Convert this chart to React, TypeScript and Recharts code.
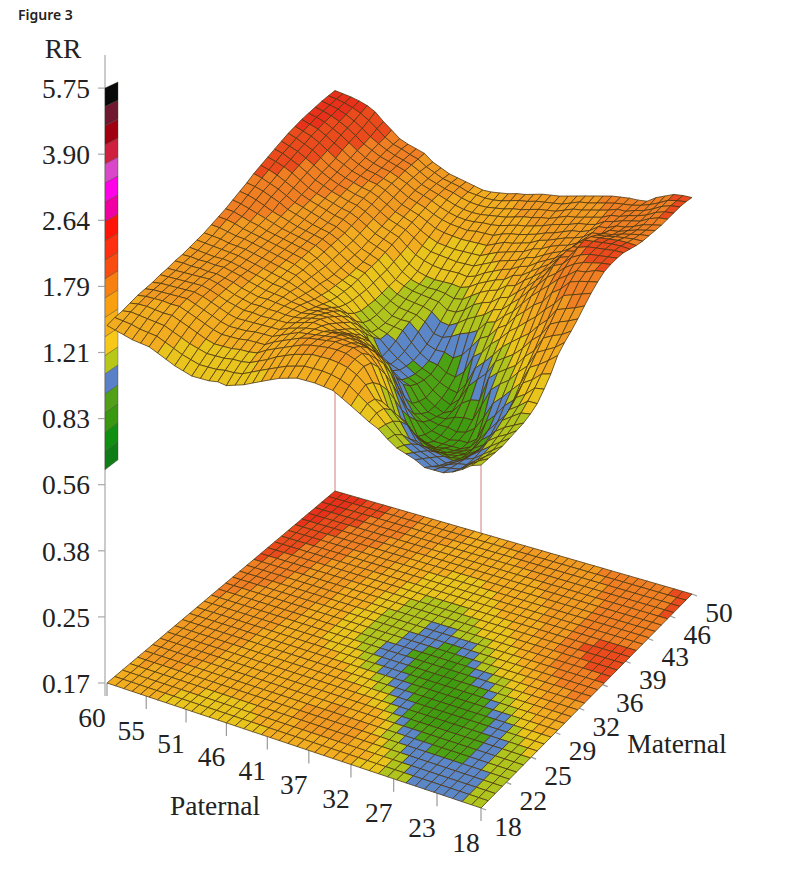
import { ScatterChart, Scatter, XAxis, YAxis } from 'recharts'

const paternalLabels = [60, 55, 51, 46, 41, 37, 32, 27, 23, 18]
const maternalLabels = [18, 22, 25, 29, 32, 36, 39, 43, 46, 50]
const rrLabels = ['0.17', '0.25', '0.38', '0.56', '0.83', '1.21', '1.79', '2.64', '3.90', '5.75']

// colour key, RR x 100 at the lower edge of each band
const bandEdges = [60, 67, 75, 84, 94, 106, 118, 132, 148, 166, 186, 208, 233, 261, 293, 328, 367, 411, 460, 515, 575]
const barColors = ['#107c18', '#109010', '#389810', '#50a018', '#5a80c8', '#b8c818', '#f8c818', '#f5b018', '#f8a010', '#f88010',
  '#f84c10', '#ff3010', '#ff1408', '#f000a0', '#ff00e8', '#d848c8', '#d02040', '#a00010', '#701830', '#0a0a0a']
const meshColors = ['#107c18', '#109010', '#3f9c10', '#4aa214', '#5b86c8', '#b0c41e', '#e8c41c', '#f2ac1f', '#f09a22', '#ef7f22',
  '#ea4a1c', '#e8301a', '#f0100a', '#f000a0', '#ff00e8', '#d848c8', '#d02040', '#a00010', '#701830', '#0a0a0a']

// RR x 100, one row per year of paternal age (60 down to 18), one column per year of maternal age (18 up to 50)
const rrByPaternal = [
  [141,143,144,146,148,149,150,152,153,155,156,158,160,162,165,168,171,175,179,183,188,192,196,200,204,208,211,214,216,218,220,221,222],
  [139,142,145,147,149,150,151,152,153,155,156,157,159,161,164,167,170,173,177,181,185,189,193,197,200,204,207,210,213,215,217,219,220],
  [137,141,144,147,149,150,151,152,153,154,155,156,158,160,162,165,167,170,174,178,181,185,189,192,196,199,203,206,209,211,214,216,218],
  [135,139,143,146,149,150,151,152,153,154,155,155,157,158,160,162,164,167,170,174,177,180,184,187,190,194,197,200,203,206,209,212,215],
  [134,138,142,145,148,150,151,152,153,153,154,155,156,157,159,160,162,164,166,170,172,175,178,181,184,187,190,193,197,200,203,207,211],
  [133,137,141,145,148,150,151,152,153,153,154,154,155,156,157,158,159,161,163,165,167,170,172,175,178,180,183,187,190,193,196,200,205],
  [130,134,138,142,145,147,149,150,151,151,152,152,153,154,155,156,157,158,160,162,164,166,168,171,173,175,178,180,183,185,188,192,195],
  [127,131,135,139,142,144,146,147,148,149,150,150,151,152,153,154,155,156,157,159,161,163,165,167,169,171,173,175,177,180,182,184,187],
  [124,128,132,136,139,141,143,144,145,146,147,148,149,150,151,152,153,154,155,156,158,160,162,164,166,168,170,171,173,175,177,178,179],
  [122,126,130,133,136,138,140,142,143,144,145,146,147,148,149,150,151,152,153,154,155,157,159,161,163,165,167,169,170,172,173,175,175],
  [120,124,128,131,134,136,138,140,141,142,143,144,145,146,147,148,149,150,151,152,153,155,157,159,161,163,165,166,168,169,170,171,172],
  [120,124,128,131,134,136,138,140,141,142,142,143,143,144,144,145,145,146,147,148,149,151,153,155,157,159,161,163,164,166,167,168,169],
  [120,124,128,131,134,136,138,139,140,141,141,141,140,140,140,140,140,141,142,143,144,146,148,150,152,154,156,158,160,161,162,162,162],
  [121,125,129,132,135,137,138,139,140,140,139,138,137,136,136,135,135,136,137,138,139,141,143,145,147,149,151,153,155,156,157,158,158],
  [120,125,129,132,135,137,138,139,139,139,138,136,134,133,132,132,132,132,133,134,136,138,140,142,144,146,148,150,152,153,154,154,154],
  [122,126,130,133,135,137,138,139,139,138,136,134,132,130,129,129,129,130,131,132,133,135,137,139,141,143,145,147,149,150,151,152,152],
  [124,129,133,137,139,140,141,141,140,139,137,134,131,127,125,124,124,124,125,126,127,129,131,133,136,138,141,143,145,147,149,150,150],
  [127,132,136,140,142,143,143,143,142,140,137,134,130,124,120,118,118,118,119,120,121,123,125,128,131,134,137,140,142,144,146,147,148],
  [130,135,140,143,145,146,145,145,143,140,136,132,127,120,115,113,113,114,115,116,118,119,121,125,128,131,135,138,140,142,144,146,146],
  [133,138,143,146,148,147,146,144,141,137,133,129,123,116,110,109,109,110,112,114,116,117,119,123,127,130,134,137,139,141,143,145,146],
  [136,141,146,149,150,148,146,142,138,134,130,125,118,112,107,107,108,109,111,113,115,116,118,122,126,129,133,136,139,141,143,145,147],
  [138,143,148,151,151,149,147,142,137,132,127,120,105,101,102,104,107,109,110,112,114,116,118,122,125,129,133,137,140,142,144,146,148],
  [140,145,150,152,152,150,147,142,136,130,124,114,103,98,98,99,101,104,107,110,113,115,118,122,125,129,133,137,140,143,145,148,150],
  [140,145,150,153,153,150,146,140,133,126,116,105,99,96,95,95,96,98,101,105,109,113,117,121,125,129,133,137,141,144,147,150,151],
  [140,145,150,153,152,149,144,137,128,118,108,100,95,93,92,92,93,96,100,104,109,114,119,123,128,132,136,140,143,146,148,151,153],
  [139,144,149,152,152,148,142,134,125,116,105,97,93,91,90,90,92,96,102,107,112,118,123,127,131,135,139,142,145,148,150,153,155],
  [138,142,147,149,149,143,135,127,116,104,94,88,86,85,86,87,89,94,105,111,117,122,126,130,134,137,140,143,146,149,152,154,156],
  [134,139,143,145,143,135,125,114,103,93,87,84,82,82,83,85,88,97,107,114,120,125,129,133,136,139,142,145,148,151,153,155,157],
  [130,134,137,134,128,120,110,100,93,88,84,82,81,80,81,84,92,103,110,117,122,127,131,135,138,141,144,147,150,152,154,156,159],
  [126,129,128,122,112,104,95,88,84,82,81,81,81,82,85,90,102,110,117,122,127,132,136,139,142,145,148,150,153,155,157,159,161],
  [122,124,123,118,110,103,94,87,82,80,80,81,83,87,93,100,106,113,119,124,129,134,138,141,144,147,150,152,155,158,160,162,163],
  [119,118,116,112,106,97,90,85,81,80,79,80,84,90,98,105,113,120,125,130,135,140,143,146,148,151,153,155,157,159,161,163,165],
  [114,113,109,103,98,92,88,84,82,80,80,81,84,91,103,111,118,124,130,136,141,145,148,150,152,154,156,158,160,161,163,165,167],
  [110,108,105,101,96,91,87,84,82,80,80,84,93,105,112,118,125,132,138,144,148,151,153,154,155,156,158,159,161,163,165,167,169],
  [108,105,102,99,95,91,87,85,83,82,83,91,103,110,116,123,130,138,146,151,155,158,160,160,160,160,161,162,163,165,167,169,170],
  [106,103,100,97,94,90,88,86,85,87,93,100,108,114,120,128,136,145,153,160,166,169,170,169,168,167,167,168,168,169,170,170,171],
  [103,100,97,95,93,91,90,90,91,93,98,105,112,118,126,133,142,150,160,166,170,172,172,170,168,168,168,169,170,170,170,171,171],
  [103,101,99,97,95,94,93,93,95,99,105,111,119,126,134,141,150,160,168,174,179,184,186,184,180,176,174,173,173,173,173,173,172],
  [103,102,101,100,99,98,97,98,101,105,110,117,125,132,140,148,157,166,174,180,184,187,187,185,181,177,175,174,175,175,175,176,178],
  [105,103,102,102,103,105,107,110,113,117,123,130,137,144,151,159,167,175,181,184,187,188,188,186,183,180,178,177,177,178,179,180,182],
  [108,107,106,106,107,109,111,114,117,121,127,134,141,148,155,162,170,178,182,186,188,189,189,187,184,182,181,181,182,183,184,185,186],
  [112,111,110,110,111,112,114,118,122,127,133,139,145,151,158,165,173,180,186,188,189,190,189,187,185,184,183,183,185,186,187,187,187],
  [114,114,114,114,115,116,117,119,122,128,135,145,151,156,162,169,176,182,187,189,190,190,188,186,185,185,185,185,186,187,188,188,187],
]

const W = 806
const H = 873
const axisLeft = 105

// floor plane corners in page pixels, perspective map from these
const corners = { left: [107, 683], front: [481, 808], right: [692, 594], back: [335, 491] }
const rrBase = 683
const rrPerLog = 169

const makePlane = () => {
  const [x0, y0] = corners.left
  const [x1, y1] = corners.front
  const [x2, y2] = corners.right
  const [x3, y3] = corners.back
  const dx1 = x1 - x2, dx2 = x3 - x2, sx = x0 - x1 + x2 - x3
  const dy1 = y1 - y2, dy2 = y3 - y2, sy = y0 - y1 + y2 - y3
  const det = dx1 * dy2 - dx2 * dy1
  const g = (sx * dy2 - dx2 * sy) / det
  const h = (dx1 * sy - sx * dy1) / det
  return (u: number, v: number) => {
    const w = g * u + h * v + 1
    return {
      x: ((x1 - x0 + g * x1) * u + (x3 - x0 + h * x3) * v + x0) / w,
      y: ((y1 - y0 + g * y1) * u + (y3 - y0 + h * y3) * v + y0) / w,
      w,
    }
  }
}
const plane = makePlane()
const rows = rrByPaternal.length - 1
const cols = rrByPaternal[0].length - 1

const floorPoint = (p: number, m: number) => plane(p / rows, m / cols)
const surfacePoint = (p: number, m: number) => {
  const f = floorPoint(p, m)
  const rise = (rrPerLog * Math.log(rrByPaternal[p][m] / 100 / 0.17)) / f.w
  return { x: f.x, y: f.y - rise }
}
const rrY = (rr100: number) => rrBase - rrPerLog * Math.log(rr100 / 100 / 0.17)

const bandIndex = (rr100: number) => {
  let k = 0
  while (k < bandEdges.length - 2 && rr100 >= bandEdges[k + 1]) k++
  return k
}

type Mark = { x: number; y: number; pts?: { x: number; y: number }[]; fill?: string; text?: string; dx?: number; dy?: number }

const cellsFrom = (at: (p: number, m: number) => { x: number; y: number }) => {
  const out: Mark[] = []
  for (let p = 0; p < rows; p++) {
    for (let m = cols - 1; m >= 0; m--) {
      const mean = (rrByPaternal[p][m] + rrByPaternal[p + 1][m] + rrByPaternal[p + 1][m + 1] + rrByPaternal[p][m + 1]) / 4
      const a = at(p, m)
      out.push({
        x: a.x,
        y: a.y,
        pts: [a, at(p + 1, m), at(p + 1, m + 1), at(p, m + 1)],
        fill: meshColors[bandIndex(mean)],
      })
    }
  }
  return out
}

const floorCells = cellsFrom(floorPoint)
const surfaceCells = cellsFrom(surfacePoint)

const barCells: Mark[] = barColors.map((fill, k) => {
  const yLow = rrY(bandEdges[k])
  const yHigh = rrY(bandEdges[k + 1])
  const slant = (y: number) => -6 - ((y - 88) / 382) * 4
  return {
    x: axisLeft,
    y: yLow,
    fill,
    pts: [
      { x: axisLeft, y: yLow },
      { x: axisLeft + 13, y: yLow + slant(yLow) },
      { x: axisLeft + 13, y: yHigh + slant(yHigh) },
      { x: axisLeft, y: yHigh },
    ],
  }
})

const rrTicks = rrLabels.map((_, i) => 683 - 66.1 * i)

const patMarks: Mark[] = paternalLabels.map((_, i) => floorPoint((i / 9) * rows, 0))
const matMarks: Mark[] = maternalLabels.map((_, i) => floorPoint(rows, (i / 9) * cols))

// labels hang off their tick position by dx, dy so they do not stretch the x domain
const tickLabels: Mark[] = [
  ...paternalLabels.map((t, i) => ({ x: patMarks[i].x, y: patMarks[i].y, dx: -15, dy: 34, text: String(t) })),
  ...maternalLabels.map((t, i) => ({ x: matMarks[i].x, y: matMarks[i].y, dx: 27, dy: 18, text: String(t) })),
  { x: 215, y: 805, text: 'Paternal' },
  { x: 677, y: 743, text: 'Maternal' },
]

const stems = [
  { from: floorPoint(0, cols), to: surfacePoint(0, cols) },
  { from: floorPoint(rows, 0), to: surfacePoint(rows, 0) },
].map((s) => ({ x: s.from.x, y: s.from.y, pts: [s.from, s.to] }))

const axisRule: Mark[] = [{ x: axisLeft, y: 696, pts: [{ x: axisLeft, y: 696 }, { x: axisLeft, y: 55 }] }]

const pointList = (props: any) => {
  const dx = props.cx - props.payload.x
  const dy = props.cy - props.payload.y
  return props.payload.pts.map((q: any) => `${q.x + dx},${q.y + dy}`).join(' ')
}

const MeshCell = (props: any) => (
  <polygon points={pointList(props)} fill={props.payload.fill} stroke="#4a3410" strokeOpacity={0.85} strokeWidth={0.9} strokeLinejoin="round" />
)
const BarCell = (props: any) => (
  <polygon points={pointList(props)} fill={props.payload.fill} stroke="#3a3a2a" strokeOpacity={0.6} strokeWidth={0.6} />
)
const GreyLine = (props: any) => <polyline points={pointList(props)} fill="none" stroke="#a8a8a8" strokeWidth={1.2} />
const RedLine = (props: any) => <polyline points={pointList(props)} fill="none" stroke="#d27c7c" strokeWidth={1} />
const PatTick = (props: any) => <line x1={props.cx} y1={props.cy} x2={props.cx} y2={props.cy + 13} stroke="#9a9a9a" strokeWidth={1.2} />
const MatTick = (props: any) => <line x1={props.cx} y1={props.cy} x2={props.cx + 5} y2={props.cy + 2} stroke="#9a9a9a" strokeWidth={1.2} />
const LabelMark = (props: any) => (
  <text
    x={props.cx + (props.payload.dx ?? 0)}
    y={props.cy + (props.payload.dy ?? 0)}
    textAnchor="middle"
    dominantBaseline="central"
    fontFamily="'Liberation Serif', serif"
    fontSize={27.5}
    fill="#222"
  >
    {props.payload.text}
  </text>
)

export default function App() {
  return (
    <div style={{ position: 'absolute', left: 0, top: 0, background: '#fff' }}>
      <ScatterChart width={W} height={H} margin={{ top: 0, right: 0, bottom: 0, left: 0 }}>
        <XAxis type="number" dataKey="x" domain={[axisLeft, W]} hide />
        <YAxis
          type="number"
          dataKey="y"
          domain={[0, H]}
          reversed
          width={axisLeft}
          ticks={rrTicks}
          interval={0}
          axisLine={false}
          tickLine={{ stroke: '#a8a8a8', strokeWidth: 1.2 }}
          tickSize={7}
          tickMargin={8}
          tickFormatter={(_: number, i: number) => rrLabels[i]}
          tick={{ fontFamily: "'Liberation Serif', serif", fontSize: 27.5, fill: '#222' }}
        />
        <Scatter data={axisRule} shape={GreyLine} isAnimationActive={false} />
        <Scatter data={barCells} shape={BarCell} isAnimationActive={false} />
        <Scatter data={stems} shape={RedLine} isAnimationActive={false} />
        <Scatter data={patMarks} shape={PatTick} isAnimationActive={false} />
        <Scatter data={matMarks} shape={MatTick} isAnimationActive={false} />
        <Scatter data={floorCells} shape={MeshCell} isAnimationActive={false} />
        <Scatter data={surfaceCells} shape={MeshCell} isAnimationActive={false} />
        <Scatter data={tickLabels} shape={LabelMark} isAnimationActive={false} />
        <text x={63} y={48} textAnchor="middle" dominantBaseline="central" fontFamily="'Liberation Serif', serif" fontSize={27.5} fill="#222">RR</text>
        <text x={18} y={20} fontFamily="'Noto Sans', sans-serif" fontWeight={600} fontSize={14} fill="#222">Figure 3</text>
      </ScatterChart>
    </div>
  )
}
